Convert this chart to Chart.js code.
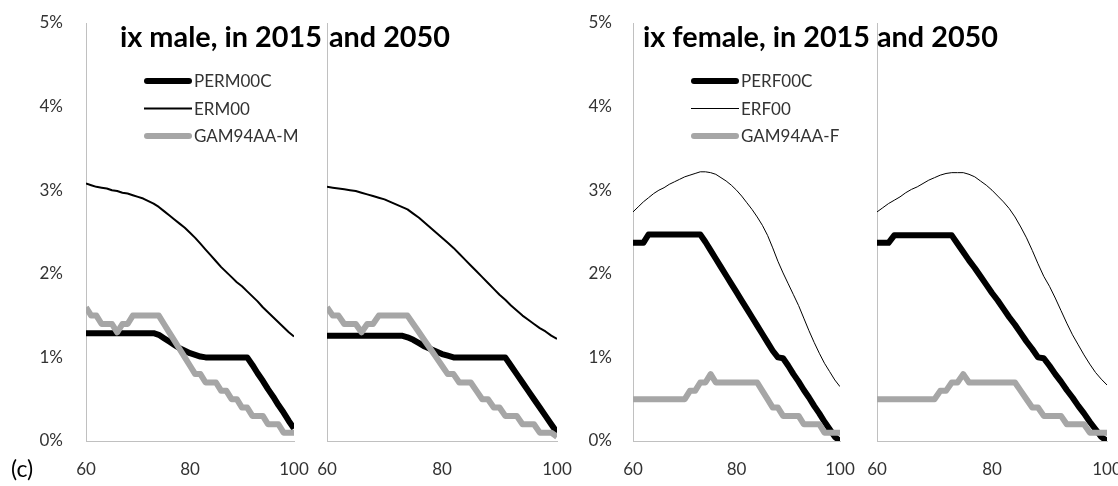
<!DOCTYPE html>
<html>
<head>
<meta charset="utf-8">
<script src="https://cdn.jsdelivr.net/npm/chart.js@4.4.1/dist/chart.umd.min.js"></script>
<style>
  html, body { margin: 0; padding: 0; background: #fff; overflow: hidden; }
  #wrap { position: relative; width: 1118px; height: 486px; overflow: hidden; }
  #wrap canvas { position: absolute; top: 0; }
  #overlay { pointer-events: none; z-index: 10; }
</style>
</head>
<body>
<div id="wrap">
  <canvas id="p1"></canvas>
  <canvas id="p2"></canvas>
  <canvas id="p3"></canvas>
  <canvas id="p4"></canvas>
  <canvas id="overlay" width="1118" height="486"></canvas>
</div>
<script>
// ages on the x axis
const ages = [60, 61, 62, 63, 64, 65, 66, 67, 68, 69, 70, 71, 72, 73, 74, 75, 76, 77, 78, 79, 80,
              81, 82, 83, 84, 85, 86, 87, 88, 89, 90, 91, 92, 93, 94, 95, 96, 97, 98, 99, 100];
const xTicks = [60, 80, 100];
const yTicks = [0, 1, 2, 3, 4, 5];

const maleLabels = ['PERM00C', 'ERM00', 'GAM94AA-M'];
const femaleLabels = ['PERF00C', 'ERF00', 'GAM94AA-F'];
const titles = ['ix male, in 2015 and 2050', 'ix female, in 2015 and 2050'];

// male, 2015 (values in %)
const perm2015 = [1.29, 1.29, 1.29, 1.29, 1.29, 1.29, 1.29, 1.29, 1.29, 1.29, 1.29, 1.29, 1.29, 1.29, 1.27, 1.23, 1.19, 1.15, 1.11, 1.08, 1.05,
                  1.03, 1.01, 1.0, 1.0, 1.0, 1.0, 1.0, 1.0, 1.0, 1.0, 1.0, 0.91, 0.81, 0.72, 0.62, 0.53, 0.43, 0.34, 0.24, 0.15];
const erm2015 = [3.08, 3.06, 3.04, 3.03, 3.02, 3.00, 2.99, 2.97, 2.96, 2.94, 2.92, 2.90, 2.87, 2.84, 2.80, 2.75, 2.70, 2.65, 2.60, 2.55, 2.49,
                 2.43, 2.36, 2.29, 2.22, 2.15, 2.08, 2.02, 1.96, 1.90, 1.85, 1.79, 1.73, 1.67, 1.60, 1.54, 1.48, 1.42, 1.36, 1.30, 1.25];
const gamM2015 = [1.6, 1.5, 1.5, 1.4, 1.4, 1.4, 1.3, 1.4, 1.4, 1.5, 1.5, 1.5, 1.5, 1.5, 1.5, 1.4, 1.3, 1.2, 1.1, 1.0, 0.9,
                  0.8, 0.8, 0.7, 0.7, 0.7, 0.6, 0.6, 0.5, 0.5, 0.4, 0.4, 0.3, 0.3, 0.3, 0.2, 0.2, 0.2, 0.1, 0.1, 0.1];

// male, 2050
const perm2050 = [1.26, 1.26, 1.26, 1.26, 1.26, 1.26, 1.26, 1.26, 1.26, 1.26, 1.26, 1.26, 1.26, 1.26, 1.24, 1.21, 1.17, 1.13, 1.10, 1.07, 1.04,
                  1.02, 1.0, 1.0, 1.0, 1.0, 1.0, 1.0, 1.0, 1.0, 1.0, 1.0, 0.9, 0.8, 0.7, 0.6, 0.5, 0.4, 0.3, 0.2, 0.1];
const erm2050 = [3.04, 3.03, 3.02, 3.01, 3.00, 2.99, 2.97, 2.95, 2.93, 2.91, 2.89, 2.86, 2.83, 2.80, 2.77, 2.72, 2.67, 2.61, 2.55, 2.49, 2.43,
                 2.37, 2.31, 2.24, 2.17, 2.10, 2.03, 1.96, 1.89, 1.82, 1.75, 1.69, 1.62, 1.56, 1.50, 1.45, 1.40, 1.35, 1.31, 1.26, 1.22];
const gamM2050 = [1.6, 1.5, 1.5, 1.4, 1.4, 1.4, 1.3, 1.4, 1.4, 1.5, 1.5, 1.5, 1.5, 1.5, 1.5, 1.4, 1.3, 1.2, 1.1, 1.0, 0.9,
                  0.8, 0.8, 0.7, 0.7, 0.7, 0.6, 0.5, 0.5, 0.4, 0.4, 0.3, 0.3, 0.3, 0.2, 0.2, 0.2, 0.1, 0.1, 0.1, 0.05];

// female, 2015
const perf2015 = [2.37, 2.37, 2.37, 2.47, 2.47, 2.47, 2.47, 2.47, 2.47, 2.47, 2.47, 2.47, 2.47, 2.47, 2.38, 2.28, 2.18, 2.08, 1.98, 1.88, 1.78,
                  1.68, 1.58, 1.48, 1.38, 1.28, 1.18, 1.08, 1.0, 0.99, 0.9, 0.8, 0.71, 0.61, 0.52, 0.42, 0.33, 0.23, 0.14, 0.05, 0.0];
const erf2015 = [2.74, 2.80, 2.86, 2.91, 2.96, 3.00, 3.03, 3.07, 3.10, 3.13, 3.16, 3.18, 3.20, 3.22, 3.22, 3.21, 3.19, 3.15, 3.11, 3.06, 3.00,
                 2.93, 2.85, 2.77, 2.68, 2.58, 2.46, 2.31, 2.15, 2.01, 1.88, 1.75, 1.62, 1.47, 1.32, 1.18, 1.05, 0.93, 0.83, 0.73, 0.65];
const gamF2015 = [0.5, 0.5, 0.5, 0.5, 0.5, 0.5, 0.5, 0.5, 0.5, 0.5, 0.5, 0.6, 0.6, 0.7, 0.7, 0.8, 0.7, 0.7, 0.7, 0.7, 0.7,
                  0.7, 0.7, 0.7, 0.7, 0.6, 0.5, 0.4, 0.4, 0.3, 0.3, 0.3, 0.3, 0.2, 0.2, 0.2, 0.2, 0.1, 0.1, 0.1, 0.1];

// female, 2050
const perf2050 = [2.37, 2.37, 2.37, 2.46, 2.46, 2.46, 2.46, 2.46, 2.46, 2.46, 2.46, 2.46, 2.46, 2.46, 2.36, 2.26, 2.16, 2.07, 1.97, 1.87, 1.77,
                  1.68, 1.58, 1.48, 1.39, 1.29, 1.19, 1.10, 1.0, 0.99, 0.9, 0.8, 0.71, 0.61, 0.52, 0.42, 0.33, 0.23, 0.14, 0.05, 0.0];
const erf2050 = [2.74, 2.79, 2.84, 2.88, 2.92, 2.97, 3.01, 3.04, 3.08, 3.12, 3.15, 3.18, 3.20, 3.21, 3.21, 3.21, 3.19, 3.16, 3.11, 3.06, 3.00,
                 2.93, 2.86, 2.78, 2.68, 2.56, 2.43, 2.28, 2.12, 1.97, 1.85, 1.71, 1.56, 1.41, 1.27, 1.15, 1.03, 0.92, 0.82, 0.74, 0.67];
const gamF2050 = [0.5, 0.5, 0.5, 0.5, 0.5, 0.5, 0.5, 0.5, 0.5, 0.5, 0.5, 0.6, 0.6, 0.7, 0.7, 0.8, 0.7, 0.7, 0.7, 0.7, 0.7,
                  0.7, 0.7, 0.7, 0.7, 0.6, 0.5, 0.4, 0.4, 0.3, 0.3, 0.3, 0.3, 0.2, 0.2, 0.2, 0.2, 0.1, 0.1, 0.1, 0.1];

const FONT = 'Lato, "Open Sans", sans-serif';
const TEXT = '#333333';
const AXIS = '#c0c0c0';
const GREY = '#a6a6a6';

// legend drawn inside the plot area, like the excel one
const insideLegend = {
  id: 'insideLegend',
  afterDraw(chart, args, opts) {
    if (!opts.show) return;
    const ctx = chart.ctx;
    const a = chart.chartArea;
    chart.data.datasets.forEach((ds, i) => {
      const y = a.top + 58 + i * 27.5;
      const x0 = a.left + 58, x1 = a.left + 106;
      const lw = ds.borderWidth;
      const round = lw > 3;
      ctx.save();
      ctx.strokeStyle = ds.borderColor;
      ctx.lineWidth = lw;
      ctx.lineCap = round ? 'round' : 'butt';
      ctx.beginPath();
      ctx.moveTo(x0 + (round ? lw / 2 : 0), y);
      ctx.lineTo(x1 - (round ? lw / 2 : 0), y);
      ctx.stroke();
      ctx.fillStyle = TEXT;
      ctx.font = '17px ' + FONT;
      ctx.textBaseline = 'middle';
      ctx.fillText(ds.label, x1 + 2, y + 1);
      ctx.restore();
    });
  }
};

function toPoints(arr) {
  return ages.map((a, i) => ({ x: a, y: arr[i] }));
}

// tick padding is done with invisible tick marks: ticks.padding would also
// feed the layout padding and squeeze the plot area
function makePanel(id, left, width, axisX, endX, series, labels, o) {
  const cv = document.getElementById(id);
  cv.width = width;
  cv.height = 486;
  cv.style.left = left + 'px';
  return new Chart(cv, {
    type: 'line',
    data: {
      datasets: [
        { label: labels[0], data: toPoints(series[0]), borderColor: '#000', borderWidth: 6, order: 2 },
        { label: labels[1], data: toPoints(series[1]), borderColor: '#000', borderWidth: o.thin, order: 1 },
        { label: labels[2], data: toPoints(series[2]), borderColor: GREY, borderWidth: 6, order: 0 }
      ]
    },
    options: {
      responsive: false,
      animation: false,
      events: [],
      layout: { padding: { top: 23, right: left + width - endX, left: 0, bottom: 0 } },
      elements: {
        point: { radius: 0 },
        line: { tension: 0, borderJoinStyle: 'round', borderCapStyle: 'butt', fill: false }
      },
      plugins: {
        legend: { display: false },
        tooltip: { enabled: false },
        insideLegend: { show: o.legend }
      },
      scales: {
        x: {
          type: 'linear',
          min: 60,
          max: 100,
          grid: { display: false, drawTicks: true, tickLength: 18 },
          border: { display: true, color: AXIS, width: 1 },
          afterBuildTicks: s => { s.ticks = xTicks.map(v => ({ value: v })); },
          afterFit: s => { s.height = 45; },
          ticks: { color: TEXT, font: { family: FONT, size: 17 }, padding: 0, maxRotation: 0 }
        },
        y: {
          min: 0,
          max: 5,
          grid: { display: false, drawTicks: true, tickLength: o.labelPad },
          border: { display: true, color: AXIS, width: 1 },
          afterBuildTicks: s => { s.ticks = yTicks.map(v => ({ value: v })); },
          afterFit: s => { s.width = axisX - left; },
          ticks: {
            display: o.showY,
            color: TEXT,
            font: { family: FONT, size: 17 },
            padding: 0,
            callback: v => v + '%'
          }
        }
      }
    },
    plugins: [insideLegend]
  });
}

makePanel('p1', 0, 320, 86, 294, [perm2015, erm2015, gamM2015], maleLabels, { showY: true, legend: true, thin: 2, labelPad: 23 });
makePanel('p2', 290, 295, 327, 557, [perm2050, erm2050, gamM2050], maleLabels, { showY: false, legend: false, thin: 2, labelPad: 23 });
makePanel('p3', 560, 300, 633, 840, [perf2015, erf2015, gamF2015], femaleLabels, { showY: true, legend: true, thin: 1, labelPad: 21 });
makePanel('p4', 840, 300, 877, 1107, [perf2050, erf2050, gamF2050], femaleLabels, { showY: false, legend: false, thin: 1, labelPad: 21 });

// titles and the (c) tag sit across the panels
const ov = document.getElementById('overlay').getContext('2d');
function fitText(text, x, y, w) {
  ov.save();
  ov.font = 'bold 28px ' + FONT;
  const m = ov.measureText(text).width;
  ov.translate(x, y);
  ov.scale(w / m, 1);
  ov.fillStyle = '#000';
  ov.textBaseline = 'alphabetic';
  ov.fillText(text, 0, 0);
  ov.restore();
}
fitText(titles[0], 120, 47, 330);
fitText(titles[1], 643, 47, 355);
ov.font = '23px ' + FONT;
ov.fillStyle = '#000';
ov.textBaseline = 'middle';
ov.fillText('(c)', 11, 470);
</script>
</body>
</html>
